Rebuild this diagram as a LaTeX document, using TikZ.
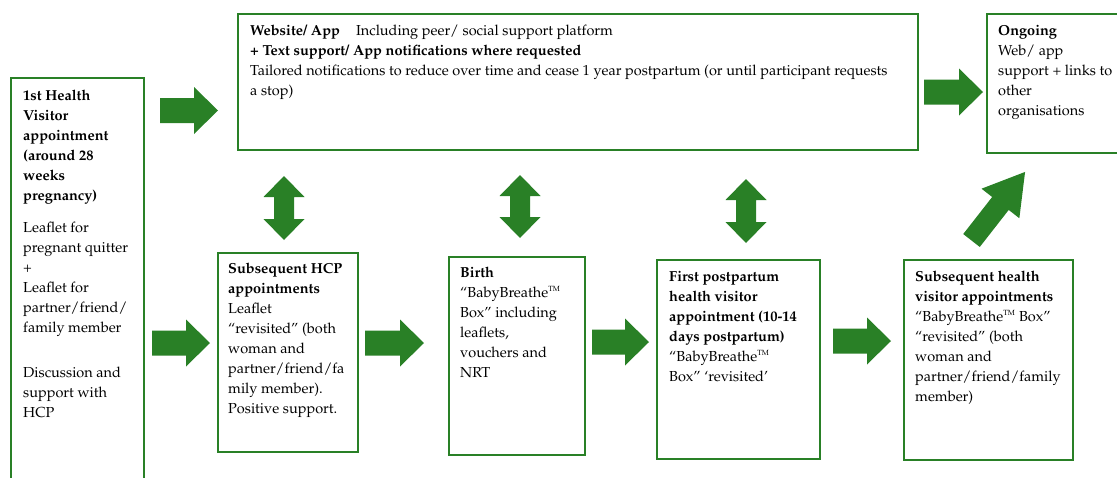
\documentclass[tikz,border=0pt]{standalone}
\usepackage[T1]{fontenc}
\renewcommand{\rmdefault}{ppl}
\definecolor{grn}{RGB}{41,128,38}
\newcommand{\tmark}{\textsuperscript{\fontsize{7.5}{8}\selectfont TM}}
\newcommand{\harrow}[7]{%
  \fill[grn, shift={(#1,#2)}, rotate=#3] (0,{-#5/2}) -- ({#4-#7},{-#5/2}) -- ({#4-#7},{-#6/2}) -- (#4,0) -- ({#4-#7},{#6/2}) -- ({#4-#7},{#5/2}) -- (0,{#5/2}) -- cycle;}
\newcommand{\varrow}[6]{%
  \fill[grn] (#1,#2) -- ({#1+#5/2},{#2+#6}) -- ({#1+#4/2},{#2+#6}) -- ({#1+#4/2},{#2+#3-#6}) -- ({#1+#5/2},{#2+#3-#6}) -- (#1,{#2+#3}) -- ({#1-#5/2},{#2+#3-#6}) -- ({#1-#4/2},{#2+#3-#6}) -- ({#1-#4/2},{#2+#6}) -- ({#1-#5/2},{#2+#6}) -- cycle;}
\begin{document}
\begin{tikzpicture}[x=1pt,y=-1pt,
  box/.style={draw=grn, line width=2.2pt, fill=none, inner sep=0pt, anchor=north west},
  txt/.style={anchor=north west, inner sep=0pt, align=left, font=\fontsize{14.5}{20}\selectfont}]
\useasboundingbox (0,0) rectangle (1117,477);
\clip (0,0) rectangle (1117,477);
% boxes
\node[box, minimum width=133pt, minimum height=430pt] (hv1) at (10,77) {};
\node[box, minimum width=680pt, minimum height=136pt] (web) at (237,13) {};
\node[box, minimum width=150pt, minimum height=139pt] (ongo) at (986,13) {};
\node[box, minimum width=140pt, minimum height=199pt] (hcp) at (217,252) {};
\node[box, minimum width=136pt, minimum height=198pt] (birth) at (448,256) {};
\node[box, minimum width=163pt, minimum height=199pt] (fp) at (656,259) {};
\node[box, minimum width=169pt, minimum height=200pt] (shv) at (903,259) {};
% texts
\node[txt] (hv1t) at (23,86) {\strut\textbf{1st Health}\\ \textbf{Visitor}\\ \textbf{appointment}\\ \textbf{(around 28}\\ \textbf{weeks}\\ \textbf{pregnancy)}\\[12pt]
  Leaflet for\\ pregnant quitter\\ +\\ Leaflet for\\ partner/friend/\\ family member\\[25pt]
  Discussion and\\ support with\\ HCP};
\node[txt] (webt) at (250,21) {\strut\textbf{Website/ App}\hspace{16pt}Including peer/ social support platform\\
  \textbf{+ Text support/ App notifications where requested}\\
  Tailored notifications to reduce over time and cease 1 year postpartum (or until participant requests\\
  a stop)};
\node[txt] (ongot) at (998,21) {\strut\textbf{Ongoing}\\ Web/ app\\ support + links to\\ other\\ organisations};
\node[txt] (hcpt) at (228,259) {\strut\textbf{Subsequent HCP}\\ \textbf{appointments}\\ Leaflet\\ ``revisited'' (both\\ woman and\\ partner/friend/fa\\ mily member).\\ Positive support.};
\node[txt] (birtht) at (460,263) {\strut\textbf{Birth}\\ ``BabyBreathe\tmark\\ Box'' including\\ leaflets,\\ vouchers and\\ NRT};
\node[txt] (fpt) at (669,267) {\strut\textbf{First postpartum}\\ \textbf{health visitor}\\ \textbf{appointment (10-14}\\ \textbf{days postpartum)}\\ ``BabyBreathe\tmark\\ Box'' `revisited'};
\node[txt] (shvt) at (915,267) {\strut\textbf{Subsequent health}\\ \textbf{visitor appointments}\\ ``BabyBreathe\tmark{} Box''\\ ``revisited'' (both\\ woman and\\ partner/friend/family\\ member)};
% horizontal block arrows
\harrow{160}{110.5}{0}{58}{25}{47}{24}
\harrow{924}{92}{0}{59}{25}{47}{24}
\harrow{152}{343}{0}{58}{25}{47}{24}
\harrow{365}{343}{0}{59}{25}{47}{24}
\harrow{592}{342}{0}{57}{25}{47}{24}
\harrow{833}{341}{0}{58}{25}{47}{24}
% diagonal arrow
\harrow{971.5}{240.5}{52}{87}{21}{48}{40}
% double arrows
\varrow{284}{176}{64}{20}{41}{21}
\varrow{520}{175}{63}{20}{41}{21}
\varrow{746}{179}{64}{20}{41}{21}
\end{tikzpicture}
\end{document}
